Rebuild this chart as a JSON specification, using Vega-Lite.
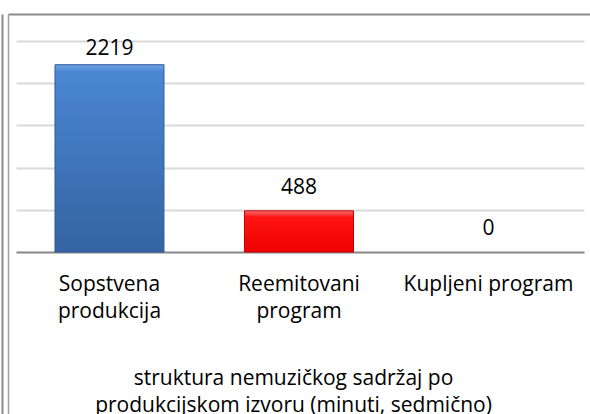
{
  "$schema": "https://vega.github.io/schema/vega-lite/v6.json",
  "width": 582,
  "height": 400,
  "autosize": {"type": "none"},
  "padding": {"left": 8, "top": 14, "right": 0, "bottom": 0},
  "background": "white",
  "config": {"view": {"stroke": null}, "font": "Open Sans"},
  "data": {
    "values": [
      {"kategorija": "Sopstvena produkcija", "minuti": 2219},
      {"kategorija": "Reemitovani program", "minuti": 488},
      {"kategorija": "Kupljeni program", "minuti": 0}
    ]
  },
  "encoding": {
    "x": {
      "field": "kategorija",
      "type": "nominal",
      "sort": null,
      "scale": {"paddingInner": 0.425, "paddingOuter": 0.248},
      "axis": {
        "orient": "bottom",
        "offset": -141,
        "title": ["struktura nemuzičkog sadržaj po", "produkcijskom izvoru (minuti, sedmično)"],
        "domain": false,
        "ticks": false,
        "grid": false,
        "labelAngle": 0,
        "labelPadding": 0,
        "labelBaseline": "top",
        "labelFont": "Open Sans",
        "labelFontSize": 21,
        "labelColor": "#000000",
        "labelLineHeight": 27,
        "labelLimit": 0,
        "labelOverlap": false,
        "labelExpr": "datum.label == 'Kupljeni program' ? datum.label : split(datum.label, ' ')",
        "titleFont": "Open Sans",
        "titleFontSize": 21,
        "titleFontWeight": "normal",
        "titleColor": "#000000",
        "titleLineHeight": 27,
        "titlePadding": 46,
        "titleX": 285
      }
    }
  },
  "layer": [
    {
      "transform": [{"filter": "datum.minuti > 0"}],
      "mark": {"type": "bar", "strokeWidth": 1},
      "encoding": {
        "y": {
          "field": "minuti",
          "type": "quantitative",
          "scale": {"domain": [-1919, 2820], "nice": false, "zero": false},
          "axis": {
            "orient": "left",
            "offset": 0,
            "labels": false,
            "ticks": false,
            "title": null,
            "domain": true,
            "domainColor": "#a0a0a0",
            "domainWidth": 1.5,
            "grid": true,
            "values": [0, 500, 1000, 1500, 2000, 2500, 2820],
            "gridColor": {
              "condition": [
                {"test": "datum.value == 0", "value": "#868686"},
                {"test": "datum.value > 2600", "value": "#8c8c8c"}
              ],
              "value": "#d9d9d9"
            },
            "gridWidth": 2,
            "gridDash": {
              "condition": {"test": "datum.value > 2600", "value": []},
              "value": [0, 8, 568, 40]
            }
          }
        },
        "y2": {"datum": 0},
        "fill": {
          "condition": {
            "test": "datum.kategorija === 'Sopstvena produkcija'",
            "value": {
              "gradient": "linear", "x1": 0, "y1": 0, "x2": 0, "y2": 1,
              "stops": [
                {"offset": 0, "color": "#6fa2e2"},
                {"offset": 0.04, "color": "#4a86d2"},
                {"offset": 1, "color": "#3464a2"}
              ]
            }
          },
          "value": {
            "gradient": "linear", "x1": 0, "y1": 0, "x2": 0, "y2": 1,
            "stops": [
              {"offset": 0, "color": "#ff7070"},
              {"offset": 0.15, "color": "#ff1414"},
              {"offset": 1, "color": "#f00000"}
            ]
          }
        },
        "stroke": {
          "condition": {"test": "datum.kategorija === 'Sopstvena produkcija'", "value": "#2e5b95"},
          "value": "#c40000"
        }
      }
    },
    {
      "transform": [{"filter": "datum.minuti < 2000"}],
      "mark": {"type": "text", "baseline": "alphabetic", "dy": -17, "fontSize": 21, "color": "#000000", "font": "Open Sans"},
      "encoding": {
        "y": {
          "field": "minuti",
          "type": "quantitative",
          "axis": {
            "orient": "left",
            "offset": 6,
            "labels": false,
            "ticks": false,
            "title": null,
            "grid": false,
            "domain": true,
            "domainColor": "#8a8a8a",
            "domainWidth": 2
          }
        },
        "text": {"field": "minuti", "type": "quantitative", "format": "d"}
      }
    },
    {
      "transform": [{"filter": "datum.minuti >= 2000"}],
      "mark": {"type": "text", "baseline": "alphabetic", "dy": -10, "fontSize": 21, "color": "#000000", "font": "Open Sans"},
      "encoding": {
        "y": {"field": "minuti", "type": "quantitative", "axis": null},
        "text": {"field": "minuti", "type": "quantitative", "format": "d"}
      }
    }
  ],
  "resolve": {"axis": {"y": "independent"}}
}
